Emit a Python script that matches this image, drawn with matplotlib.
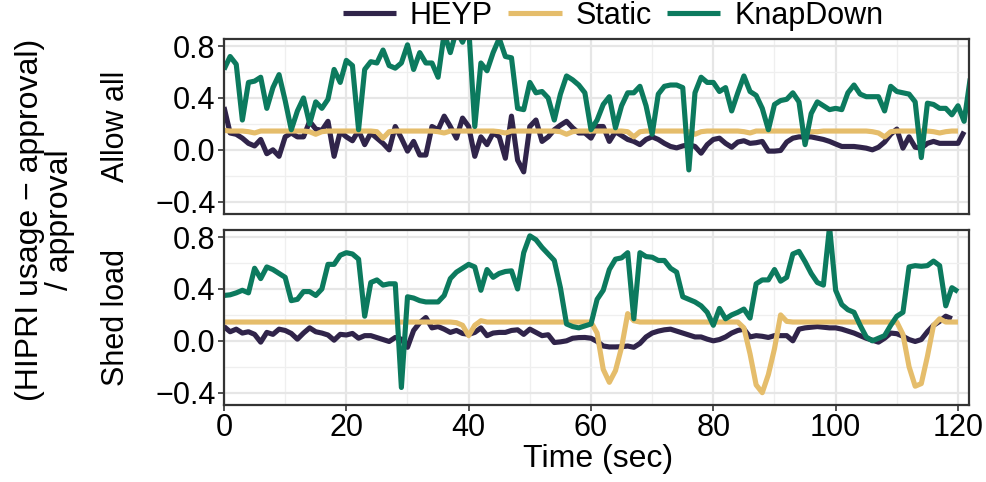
import numpy as np
import matplotlib
matplotlib.use("Agg")
import matplotlib.pyplot as plt
from matplotlib.ticker import MultipleLocator

plt.rcParams['font.family'] = ['Liberation Sans', 'DejaVu Sans']

series_names = ["HEYP", "Static", "KnapDown"]
colors = {"HEYP": "#30244a", "Static": "#e5bd6b", "KnapDown": "#0c7a5e"}
facets = ["Allow all", "Shed load"]

# ---- Allow all ----
allow_heyp = [0.33, 0.13, 0.12, 0.09, 0.05, 0.03, 0.08, -0.03, 0.0, -0.05,
              0.10, 0.13, 0.10, 0.10, 0.22, 0.16, 0.15, 0.22, -0.05, 0.14,
              0.10, 0.07, 0.15, 0.04, 0.13, 0.09, 0.05, 0.0, 0.18, 0.09,
              -0.01, 0.065, -0.04, -0.04, 0.18, 0.155, 0.26, 0.18, 0.09, 0.245,
              0.18, -0.05, 0.10, 0.04, 0.13, 0.10, -0.065, 0.26, -0.08, -0.17,
              0.18, 0.23, 0.065, 0.10, 0.155, 0.19, 0.22, 0.17, 0.13, 0.13,
              0.09, 0.18, 0.18, 0.065, 0.14, 0.11, 0.08, 0.065, 0.04, 0.08,
              0.10, 0.08, 0.05, 0.026, 0.015, 0.03, 0.04, 0.026, -0.026, 0.04,
              0.08, 0.09, 0.05, 0.02, 0.06, 0.07, 0.05, 0.055, 0.065, -0.01,
              -0.01, -0.005, 0.06, 0.09, 0.10, 0.10, 0.10, 0.09, 0.08, 0.065,
              0.045, 0.026, 0.026, 0.026, 0.02, 0.013, 0.0, 0.02, 0.06, 0.12,
              0.16, 0.013, 0.10, 0.02, 0.013, 0.05, 0.065, 0.05, 0.05, 0.05,
              0.05, 0.14]
allow_static = [0.15, 0.145, 0.145, 0.145, 0.14, 0.13, 0.145, 0.145, 0.145, 0.145,
                0.145, 0.145, 0.145, 0.145, 0.14, 0.12, 0.14, 0.145, 0.145, 0.145,
                0.145, 0.145, 0.145, 0.145, 0.145, 0.14, 0.09, 0.14, 0.145, 0.145,
                0.145, 0.145, 0.145, 0.145, 0.145, 0.14, 0.13, 0.145, 0.145, 0.145,
                0.145, 0.145, 0.145, 0.145, 0.145, 0.14, 0.13, 0.145, 0.145, 0.145,
                0.145, 0.145, 0.145, 0.145, 0.145, 0.14, 0.12, 0.14, 0.145, 0.145,
                0.145, 0.145, 0.145, 0.145, 0.145, 0.145, 0.14, 0.10, 0.14, 0.145,
                0.145, 0.145, 0.145, 0.145, 0.145, 0.145, 0.14, 0.12, 0.14, 0.145,
                0.145, 0.145, 0.145, 0.145, 0.145, 0.14, 0.13, 0.145, 0.145, 0.145,
                0.145, 0.145, 0.145, 0.145, 0.145, 0.145, 0.14, 0.14, 0.145, 0.145,
                0.145, 0.145, 0.145, 0.145, 0.145, 0.145, 0.14, 0.13, 0.10, 0.14,
                0.145, 0.145, 0.145, 0.145, 0.145, 0.145, 0.14, 0.13, 0.14, 0.145,
                0.145]
allow_knap = [0.62, 0.72, 0.66, 0.23, 0.52, 0.53, 0.56, 0.32, 0.48, 0.58,
              0.38, 0.155, 0.30, 0.40, 0.20, 0.37, 0.32, 0.39, 0.62, 0.52,
              0.69, 0.65, 0.155, 0.62, 0.68, 0.67, 0.77, 0.65, 0.63, 0.67,
              0.81, 0.62, 0.75, 0.67, 0.67, 0.56, 0.90, 0.75, 0.92, 0.83,
              0.95, 0.18, 0.67, 0.61, 0.75, 0.86, 0.72, 0.71, 0.32, 0.31,
              0.52, 0.44, 0.45, 0.40, 0.23, 0.43, 0.57, 0.54, 0.50, 0.44,
              0.155, 0.23, 0.35, 0.41, 0.17, 0.34, 0.44, 0.44, 0.49, 0.34,
              0.12, 0.43, 0.49, 0.50, 0.50, 0.48, -0.155, 0.44, 0.56, 0.52,
              0.52, 0.45, 0.48, 0.30, 0.44, 0.57, 0.45, 0.42, 0.32, 0.155,
              0.35, 0.38, 0.39, 0.44, 0.37, 0.04, 0.28, 0.37, 0.34, 0.31,
              0.32, 0.31, 0.44, 0.50, 0.43, 0.41, 0.41, 0.41, 0.30, 0.49,
              0.45, 0.44, 0.43, 0.37, -0.06, 0.36, 0.35, 0.32, 0.32, 0.27,
              0.34, 0.22, 0.55]

# ---- Shed load ----
shed_heyp = [0.11, 0.07, 0.09, 0.06, 0.07, 0.05, -0.01, 0.065, 0.05, 0.09,
             0.08, 0.057, 0.013, 0.06, 0.10, 0.07, 0.06, 0.045, 0.005, 0.05,
             0.045, 0.057, 0.02, 0.04, 0.04, 0.025, 0.01, -0.005, 0.026, 0.013,
             -0.05, 0.08, 0.14, 0.18, 0.10, 0.11, 0.09, 0.065, 0.08, 0.057,
             0.05, 0.065, 0.10, 0.04, 0.06, 0.065, 0.065, 0.08, 0.085, 0.05,
             0.09, 0.065, 0.04, 0.047, -0.013, -0.008, 0.0, 0.02, 0.025, 0.026,
             0.02, -0.005, -0.04, -0.047, -0.047, -0.045, -0.04, -0.05, -0.02, 0.03,
             0.06, 0.075, 0.085, 0.09, 0.075, 0.06, 0.045, 0.03, 0.03, 0.013,
             0.0, 0.01, 0.03, 0.06, 0.08, 0.09, 0.03, 0.04, 0.035, 0.026,
             0.04, 0.04, 0.04, 0.0, 0.09, 0.10, 0.105, 0.11, 0.105, 0.10,
             0.10, 0.09, 0.075, 0.06, 0.04, 0.02, 0.005, -0.01, 0.02, 0.06,
             0.055, 0.035, 0.01, -0.005, 0.01, 0.07, 0.12, 0.15, 0.19, 0.17]
shed_static = [0.145, 0.145, 0.145, 0.145, 0.145, 0.145, 0.145, 0.145, 0.145, 0.145,
               0.145, 0.145, 0.145, 0.145, 0.145, 0.145, 0.145, 0.145, 0.145, 0.145,
               0.145, 0.145, 0.145, 0.145, 0.145, 0.145, 0.145, 0.145, 0.145, 0.145,
               0.145, 0.145, 0.145, 0.145, 0.145, 0.145, 0.145, 0.145, 0.14, 0.12,
               0.04, 0.12, 0.155, 0.145, 0.145, 0.145, 0.145, 0.145, 0.145, 0.145,
               0.145, 0.145, 0.145, 0.145, 0.145, 0.145, 0.145, 0.145, 0.145, 0.145,
               0.145, 0.06, -0.22, -0.32, -0.23, -0.05, 0.21, 0.155, 0.145, 0.145,
               0.145, 0.145, 0.145, 0.145, 0.145, 0.145, 0.145, 0.145, 0.145, 0.145,
               0.145, 0.145, 0.145, 0.145, 0.145, 0.10, -0.10, -0.34, -0.40, -0.26,
               -0.06, 0.20, 0.15, 0.145, 0.145, 0.145, 0.145, 0.145, 0.145, 0.145,
               0.145, 0.145, 0.145, 0.145, 0.145, 0.145, 0.145, 0.145, 0.145, 0.145,
               0.145, 0.05, -0.20, -0.35, -0.33, -0.12, 0.12, 0.17, 0.145, 0.145,
               0.145]
shed_knap = [0.35, 0.355, 0.37, 0.39, 0.37, 0.56, 0.48, 0.57, 0.55, 0.52,
             0.49, 0.31, 0.32, 0.38, 0.38, 0.35, 0.40, 0.59, 0.59, 0.66,
             0.68, 0.67, 0.63, 0.19, 0.45, 0.47, 0.43, 0.44, 0.44, -0.36,
             0.34, 0.33, 0.31, 0.30, 0.30, 0.30, 0.35, 0.48, 0.53, 0.56,
             0.59, 0.57, 0.39, 0.55, 0.49, 0.52, 0.535, 0.54, 0.40, 0.68,
             0.81, 0.78, 0.72, 0.67, 0.62, 0.41, 0.13, 0.11, 0.10, 0.115,
             0.13, 0.32, 0.39, 0.55, 0.63, 0.64, 0.68, 0.17, 0.68, 0.65,
             0.645, 0.62, 0.62, 0.56, 0.53, 0.34, 0.32, 0.30, 0.27, 0.22,
             0.12, 0.25, 0.17, 0.20, 0.22, 0.245, 0.175, 0.44, 0.47, 0.47,
             0.55, 0.46, 0.49, 0.67, 0.69, 0.61, 0.52, 0.45, 0.43, 0.88,
             0.39, 0.28, 0.24, 0.22, 0.12, 0.03, 0.0, 0.02, 0.04, 0.12,
             0.19, 0.22, 0.57, 0.58, 0.575, 0.58, 0.615, 0.58, 0.27, 0.41,
             0.38]

panel_data = {
    "Allow all": {"HEYP": allow_heyp, "Static": allow_static, "KnapDown": allow_knap},
    "Shed load": {"HEYP": shed_heyp, "Static": shed_static, "KnapDown": shed_knap},
}

x_ticks = [0, 20, 40, 60, 80, 100, 120]
y_ticks = [-0.4, 0.0, 0.4, 0.8]
y_labels = ["\u22120.4", "0.0", "0.4", "0.8"]

W, H = 987, 482
fig = plt.figure(figsize=(W / 100, H / 100), dpi=100)

def frac_rect(left, top, right, bottom):
    return [left / W, 1 - bottom / H, (right - left) / W, (bottom - top) / H]

panel_px = [(224, 39, 969, 214), (224, 230, 969, 405)]
axes = []
fs = 22
title_fs = 23
for i, (facet, px) in enumerate(zip(facets, panel_px)):
    ax = fig.add_axes(frac_rect(*px))
    axes.append(ax)
    for name in series_names:
        vals = panel_data[facet][name]
        ax.plot(np.arange(len(vals)), vals, color=colors[name], lw=3.7,
                solid_joinstyle="round", solid_capstyle="butt", label=name)
    ax.set_xlim(0, 121.8)
    ax.set_ylim(-0.495, 0.855)
    ax.set_xticks(x_ticks)
    ax.xaxis.set_minor_locator(MultipleLocator(10))
    ax.set_yticks(y_ticks)
    ax.set_yticklabels(y_labels)
    ax.yaxis.set_minor_locator(MultipleLocator(0.2))
    ax.grid(True, which="major", color="#e6e6e6", lw=1.6, zorder=0)
    ax.grid(True, which="minor", color="#efefef", lw=0.9, zorder=0)
    ax.set_axisbelow(True)
    for sp in ax.spines.values():
        sp.set_color("#333333")
        sp.set_linewidth(1.6)
    ax.tick_params(axis="both", which="major", length=4, width=1.2,
                   color="#333333", labelsize=fs, labelcolor="black", pad=2)
    ax.tick_params(axis="both", which="minor", length=0)
    if i == 0:
        ax.tick_params(axis="x", labelbottom=False, length=0)
    # facet strip label on the left
    centre_y = (px[1] + px[3]) / 2
    fig.text(116 / W, 1 - centre_y / H, facet,
             rotation=90, ha="center", va="center", fontsize=fs)

fig.text(598 / W, 1 - 459 / H, "Time (sec)", ha="center", va="center",
         fontsize=title_fs)

fig.text(45 / W, 1 - 220 / H, "(HIPRI usage \u2212 approval)\n/ approval",
         rotation=90, ha="center", va="center", fontsize=title_fs,
         linespacing=1.0, multialignment="center")

handles, labels = axes[0].get_legend_handles_labels()
fig.legend(handles, labels, loc="center", bbox_to_anchor=(613 / W, 1 - 16 / H),
           ncol=3, frameon=False, fontsize=fs, handlelength=1.75,
           handletextpad=0.45, columnspacing=0.5, borderpad=0)

fig.savefig("out.png", dpi=100)
